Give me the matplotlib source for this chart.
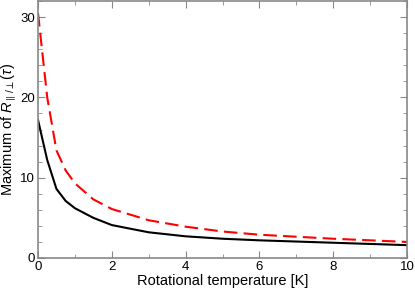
import matplotlib.pyplot as plt
from matplotlib.ticker import MultipleLocator

plt.rcParams['font.family'] = ['Liberation Sans', 'DejaVu Sans']
plt.rcParams['mathtext.fontset'] = 'custom'
plt.rcParams['mathtext.it'] = 'Liberation Sans:italic'
plt.rcParams['mathtext.rm'] = 'Liberation Sans'

# rotational temperature [K]
temp_black = [0, 0.25, 0.5, 0.75, 1, 1.5, 2, 3, 4, 5, 6, 8, 10]
r_black = [17.2, 12.2, 8.6, 7.1, 6.2, 5.0, 4.1, 3.2, 2.7, 2.4, 2.2, 1.9, 1.6]
temp_red = [0, 0.25, 0.5, 0.75, 1, 1.5, 2, 3, 4, 5, 6, 8, 10]
r_red = [30.5, 20.0, 13.4, 10.9, 9.3, 7.3, 6.1, 4.7, 3.9, 3.3, 2.9, 2.4, 2.0]

fig = plt.figure(figsize=(4.15, 2.89), dpi=100)
ax = fig.add_axes([38 / 415, 31 / 289, 369 / 415, 257 / 289])

ax.plot(temp_black, r_black, color='black', linewidth=1.5)
ax.plot(temp_red, r_red, color='red', linewidth=1.5, linestyle=(0, (6.5, 3)))

ax.set_xlim(0, 10)
ax.set_ylim(0, 32)
ax.xaxis.set_major_locator(MultipleLocator(2))
ax.xaxis.set_minor_locator(MultipleLocator(1))
ax.yaxis.set_major_locator(MultipleLocator(10))
ax.yaxis.set_minor_locator(MultipleLocator(2))
ax.tick_params(which='both', direction='in', top=True, right=True,
               color='#888888', labelsize=9.5, pad=2)
ax.tick_params(which='major', length=5)
ax.tick_params(which='minor', length=3)
for s in ax.spines.values():
    s.set_color('#888888')
    s.set_linewidth(1.2)

ax.set_xlabel("Rotational temperature [K]", fontsize=10.5, labelpad=1)
ax.set_ylabel(r"Maximum of $R_{\parallel/\perp}(\tau)$", fontsize=10.5, labelpad=2)

fig.savefig("out.png", dpi=100)
